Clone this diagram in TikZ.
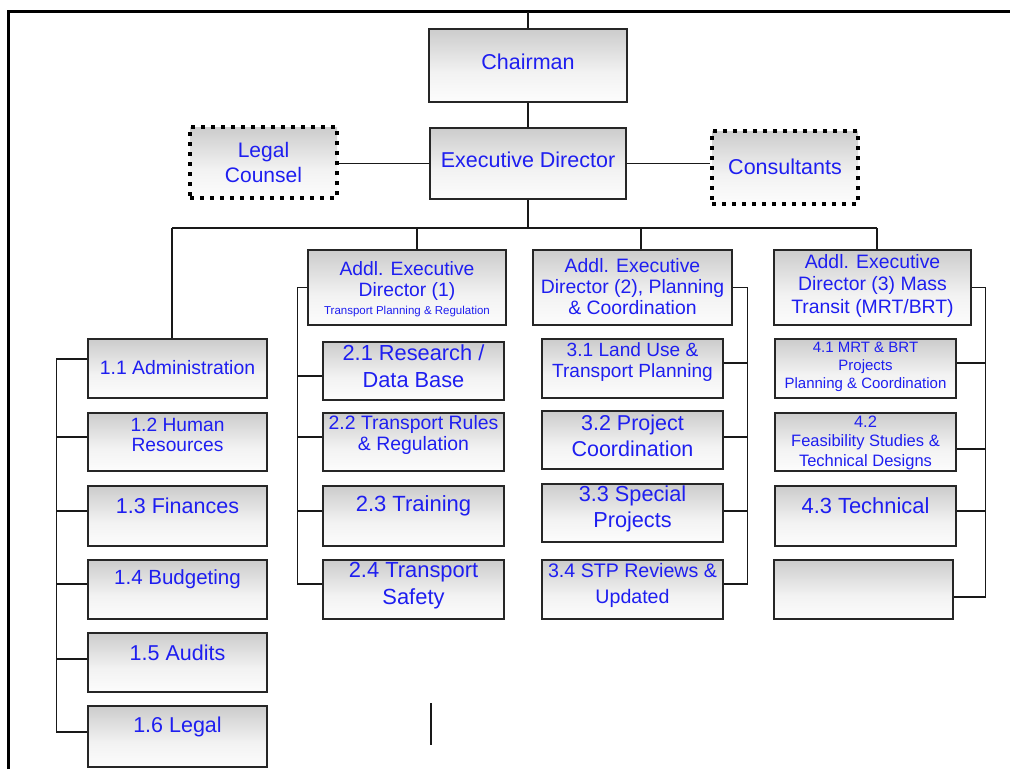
\documentclass[tikz,border=0pt]{standalone}
\usepackage{fontspec}
\setmainfont{Liberation Sans}
\usetikzlibrary{fadings}
\definecolor{txtblue}{RGB}{30,30,240}
\newcommand\fsz[2]{\fontsize{#1}{#2}\selectfont}
\pgfdeclareverticalshading{boxshade}{100bp}{color(0bp)=(black!42); color(20bp)=(white); color(45bp)=(black!5); color(75bp)=(black!20); color(100bp)=(black!45)}
% mask that keeps only narrow strips at the left and right edges
\pgfdeclarehorizontalshading{sidemask}{100bp}{color(0bp)=(white); color(10bp)=(black); color(90bp)=(black); color(100bp)=(white)}
\pgfdeclarefading{sidefade}{\pgfuseshading{sidemask}}
\begin{document}
\begin{tikzpicture}[x=1pt,y=-1pt,
  edges/.style={path picture={\fill[black!60, fill opacity=0.45, path fading=sidefade, fit fading=true] (path picture bounding box.south west) rectangle (path picture bounding box.north east);}},
  box/.style={rectangle, draw=black!85, line width=1.4pt, shade, shading=boxshade, edges, inner sep=0pt},
  dotbox/.style={rectangle, draw=black, line width=3.6pt, dash pattern=on 3.6pt off 6.4pt, shade, shading=boxshade, edges, inner sep=0pt},
  col1/.style={box, minimum width=179pt},
  colw/.style={box, minimum width=181pt},
  lbl/.style={text=txtblue, align=center, inner sep=0pt},
  wire/.style={draw=black!90, line width=1.3pt}]
\useasboundingbox (0,0) rectangle (1010,769);

% outer frame (top and left edges)
\coordinate (fa) at (8,769);
\coordinate (fb) at (8,11.5);
\coordinate (fc) at (1010,11.5);
\draw[line width=3pt, line join=miter] (fa) -- (fb) -- (fc);

% top level
\node[box, minimum width=198pt, minimum height=73pt] (chair) at (528,65.5) {};
\node[box, minimum width=196pt, minimum height=71pt] (ed) at (528,163.5) {};
\node[dotbox, minimum width=147pt, minimum height=71pt] (legal) at (263.5,162.5) {};
\node[dotbox, minimum width=146pt, minimum height=73pt] (cons) at (785,167.5) {};

\node[lbl, font=\fsz{21.5}{25}] (tchair) at (528,62) {Chairman};
\node[lbl, font=\fsz{21.5}{25}] (ted) at (528,160) {Executive Director};
\node[lbl, font=\fsz{21}{25}] (tlegal) at (263.5,162.5) {Legal\\Counsel};
\node[lbl, font=\fsz{21.5}{25}] (tcons) at (785,167) {Consultants};

% additional executive directors
\node[box, minimum width=198pt, minimum height=75pt] (a1) at (407,287.5) {};
\node[box, minimum width=199pt, minimum height=75pt] (a2) at (632.5,287.5) {};
\node[box, minimum width=197pt, minimum height=75pt] (a3) at (872.5,287.5) {};

\node[lbl, font=\fsz{19.3}{21}] (ta1) at (407,289) {Addl. Executive\\Director (1)\\[-3pt]{\fsz{11.5}{13}Transport Planning \& Regulation}};
\node[lbl, font=\fsz{19.4}{21}] (ta2) at (632.5,287) {Addl. Executive\\Director (2), Planning\\\& Coordination};
\node[lbl, font=\fsz{19.4}{22.5}] (ta3) at (872.5,285.5) {Addl. Executive\\Director (3) Mass\\Transit (MRT/BRT)};

% column 1
\node[col1, minimum height=59pt] (b11) at (177.5,368.5) {};
\node[col1, minimum height=58pt] (b12) at (177.5,442) {};
\node[col1, minimum height=60pt] (b13) at (177.5,516) {};
\node[col1, minimum height=59pt] (b14) at (177.5,589.5) {};
\node[col1, minimum height=59pt] (b15) at (177.5,662.5) {};
\node[col1, minimum height=61pt] (b16) at (177.5,736.5) {};

\node[lbl, font=\fsz{19.4}{21}] (t11) at (177.5,368) {1.1 Administration};
\node[lbl, font=\fsz{19.2}{20}] (t12) at (177.5,435) {1.2 Human\\Resources};
\node[lbl, font=\fsz{21.5}{25}] (t13) at (177.5,506) {1.3 Finances};
\node[lbl, font=\fsz{20.5}{25}] (t14) at (177.5,579) {1.4 Budgeting};
\node[lbl, font=\fsz{21.5}{25}] (t15) at (177.5,653) {1.5 Audits};
\node[lbl, font=\fsz{21.5}{25}] (t16) at (177.5,727) {1.6 Legal};

% column 2
\node[colw, minimum height=58pt] (b21) at (413.5,371) {};
\node[colw, minimum height=58pt] (b22) at (413.5,442) {};
\node[colw, minimum height=60pt] (b23) at (413.5,516) {};
\node[colw, minimum height=59pt] (b24) at (413.5,589.5) {};

\node[lbl, font=\fsz{21.8}{27}] (t21) at (413.5,366.5) {2.1 Research /\\Data Base};
\node[lbl, font=\fsz{19.4}{21}] (t22) at (413.5,434.5) {2.2 Transport Rules\\\& Regulation};
\node[lbl, font=\fsz{22}{26}] (t23) at (413.5,506) {2.3 Training};
\node[lbl, font=\fsz{21.9}{27}] (t24) at (413.5,585.5) {2.4 Transport\\Safety};

% column 3
\node[colw, minimum height=59pt] (b31) at (632.5,368.5) {};
\node[colw, minimum height=58pt] (b32) at (632.5,440) {};
\node[colw, minimum height=58pt] (b33) at (632.5,513) {};
\node[colw, minimum height=59pt] (b34) at (632.5,589.5) {};

\node[lbl, font=\fsz{19.1}{21}] (t31) at (632.5,362.5) {3.1 Land Use \&\\Transport Planning};
\node[lbl, font=\fsz{21.5}{26}] (t32) at (632.5,436) {3.2 Project\\Coordination};
\node[lbl, font=\fsz{21.7}{26}] (t33) at (632.5,509) {3.3 Special\\Projects};
\node[lbl, font=\fsz{19.6}{26}] (t34) at (632.5,585) {3.4 STP Reviews \&\\Updated};

% column 4
\node[colw, minimum height=59pt] (b41) at (865.5,368.5) {};
\node[colw, minimum height=58pt] (b42) at (865.5,442) {};
\node[colw, minimum height=60pt] (b43) at (865.5,516) {};
\node[box, minimum width=179pt, minimum height=59pt] (b44) at (863.5,589.5) {};

\node[lbl, font=\fsz{15}{18}] (t41) at (865.5,367) {4.1 MRT \& BRT\\Projects\\Planning \& Coordination};
\node[lbl, font=\fsz{16.5}{19.5}] (t42) at (865.5,442.5) {4.2\\Feasibility Studies \&\\Technical Designs};
\node[lbl, font=\fsz{21.9}{26}] (t43) at (865.5,506) {4.3 Technical};

% chairman and executive director links
\coordinate (ctop) at (528,11.5);
\draw[wire] (ctop) -- (chair.north);
\draw[wire] (chair.south) -- (ed.north);
\draw[wire] (ed.west) -- (ed.west -| legal.east);
\draw[wire] (ed.east) -- (ed.east -| cons.west);

% distribution bus
\coordinate (bl) at (172,228);
\coordinate (br) at (877,228);
\coordinate (d2) at (417,228);
\coordinate (d3) at (641,228);
\draw[wire] (ed.south) -- (ed.south |- bl);
\draw[wire] (bl) -- (br);
\draw[wire] (bl) -- (bl |- b11.north);
\draw[wire] (d2) -- (d2 |- a1.north);
\draw[wire] (d3) -- (d3 |- a2.north);
\draw[wire] (br) -- (br |- a3.north);

% column 1 spine
\coordinate (k11) at ([yshift=9.5pt]b11.west);
\coordinate (k12) at ([yshift=5pt]b12.west);
\coordinate (k13) at ([yshift=5pt]b13.west);
\coordinate (k14) at ([yshift=5.5pt]b14.west);
\coordinate (k15) at ([yshift=3.5pt]b15.west);
\coordinate (k16) at ([yshift=4.5pt]b16.west);
\coordinate (s1) at ([xshift=-31pt]k11);
\draw[wire] (k11) -- (s1) |- (k16);
\foreach \k in {k12,k13,k14,k15} \draw[wire] (\k) -- (\k -| s1);

% column 2 spine
\coordinate (s2) at ([xshift=-10pt]a1.west);
\coordinate (k21) at ([yshift=-5pt]b21.west);
\coordinate (k22) at ([yshift=5pt]b22.west);
\coordinate (k23) at ([yshift=5pt]b23.west);
\coordinate (k24) at ([yshift=5.5pt]b24.west);
\draw[wire] (a1.west) -- (s2) |- (k24);
\foreach \k in {k21,k22,k23} \draw[wire] (\k) -- (\k -| s2);

% column 3 spine
\coordinate (s3) at ([xshift=15pt]a2.east);
\coordinate (k31) at ([yshift=5.5pt]b31.east);
\coordinate (k32) at ([yshift=3pt]b32.east);
\coordinate (k33) at ([yshift=2pt]b33.east);
\coordinate (k34) at ([yshift=5.5pt]b34.east);
\draw[wire] (a2.east) -- (s3) |- (k34);
\foreach \k in {k31,k32,k33} \draw[wire] (\k) -- (\k -| s3);

% column 4 spine
\coordinate (s4) at ([xshift=14pt]a3.east);
\coordinate (k41) at ([yshift=5.5pt]b41.east);
\coordinate (k42) at ([yshift=-7pt]b42.east);
\coordinate (k43) at ([yshift=5pt]b43.east);
\coordinate (k44) at ([yshift=-7.5pt]b44.east);
\draw[wire] (a3.east) -- (s4) |- (k44);
\foreach \k in {k41,k42,k43} \draw[wire] (\k) -- (\k -| s4);

% short vertical stroke below column 2
\coordinate (m1) at (431,703);
\coordinate (m2) at (431,745);
\draw[wire] (m1) -- (m2);
\end{tikzpicture}
\end{document}
